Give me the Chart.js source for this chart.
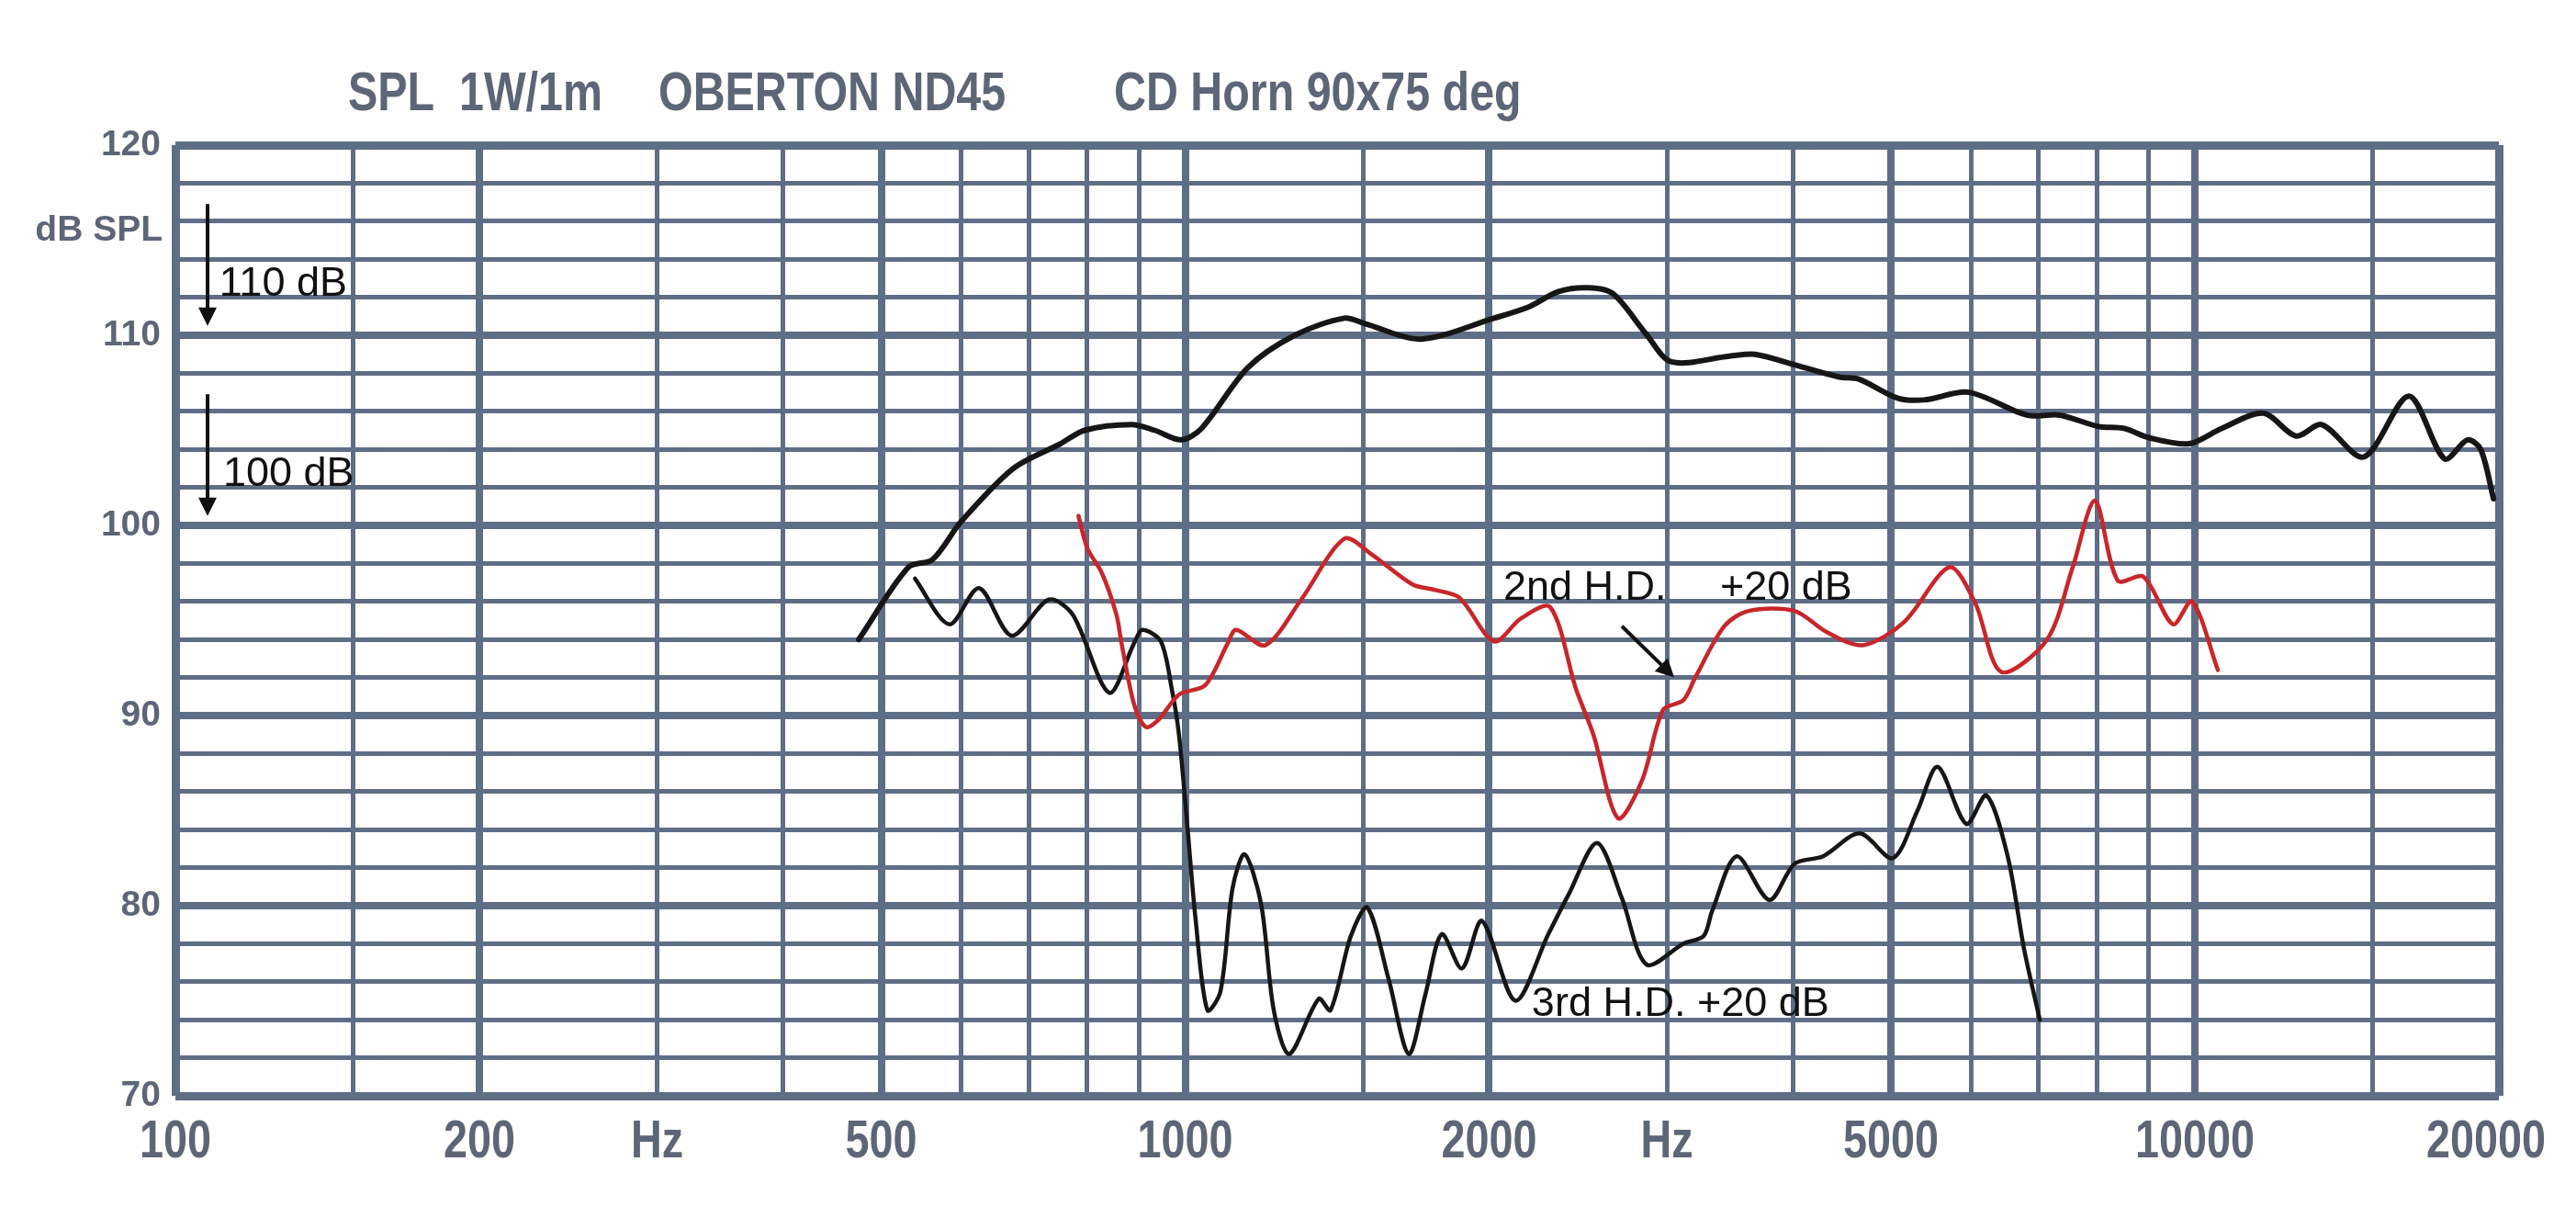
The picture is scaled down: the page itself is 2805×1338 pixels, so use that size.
<!DOCTYPE html>
<html>
<head>
<meta charset="utf-8">
<script src="https://cdn.jsdelivr.net/npm/chart.js@4.4.1/dist/chart.umd.min.js"></script>
<style>
  html, body { margin: 0; padding: 0; background: #fff; }
  canvas { display: block; }
</style>
</head>
<body>
<canvas id="spl" width="2805" height="1338"></canvas>
<script>
// x axis: grid ticks and their labels (Hz, log scale)
const xTickValues = [100, 150, 200, 300, 400, 500, 600, 700, 800, 900, 1000, 1500, 2000, 3000, 4000, 5000, 6000, 7000, 8000, 9000, 10000, 15000, 20000];
const xTickText = ['100', '', '200', 'Hz', '', '500', '', '', '', '', '1000', '', '2000', 'Hz', '', '5000', '', '', '', '', '10000', '', '20000'];
const xMajorTicks = [200, 500, 1000, 2000, 5000, 10000];
// y axis: labelled values (dB SPL)
const yLabelValues = [70, 80, 90, 100, 110, 120];

// SPL 1W/1m
const splFreq = [475, 532, 562, 600, 676, 753, 795, 885, 933, 991, 1038, 1154, 1284, 1438, 1509, 1712, 2023, 2191, 2343, 2505, 2651, 2858, 3031, 3459, 3667, 4013, 4446, 4645, 5074, 5391, 5972, 6817, 7350, 8027, 8511, 9024, 9874, 10627, 11695, 12590, 13360, 14700, 16290, 17670, 18620, 19190, 19760];
const splDb = [94.0, 97.8, 98.2, 100.2, 103.0, 104.3, 105.0, 105.3, 105.0, 104.5, 105.1, 108.3, 110.0, 110.9, 110.6, 109.8, 110.9, 111.5, 112.3, 112.5, 112.2, 110.1, 108.6, 108.9, 109.0, 108.45, 107.8, 107.7, 106.7, 106.6, 107.0, 105.8, 105.8, 105.2, 105.1, 104.6, 104.3, 105.1, 105.9, 104.7, 105.3, 103.6, 106.8, 103.5, 104.5, 104.0, 101.4];

// 2nd harmonic distortion +20 dB
const hd2Freq = [784, 800, 827, 855, 865, 890, 914, 942, 986, 1047, 1102, 1123, 1201, 1303, 1438, 1528, 1679, 1770, 1869, 2023, 2150, 2299, 2438, 2537, 2683, 2835, 2974, 3114, 3200, 3420, 3614, 4013, 4316, 4688, 5148, 5716, 6061, 6429, 7139, 7568, 7962, 8385, 8896, 9511, 9935, 10537];
const hd2Db = [100.5, 98.8, 97.5, 95.3, 93.8, 90.6, 89.4, 89.8, 91.1, 91.6, 93.8, 94.5, 93.7, 96.1, 99.3, 98.5, 96.9, 96.6, 96.2, 93.9, 95.1, 95.7, 91.4, 89.0, 84.6, 86.6, 90.3, 90.8, 92.0, 94.7, 95.5, 95.5, 94.4, 93.7, 94.9, 97.8, 95.9, 92.3, 94.0, 97.8, 101.3, 97.1, 97.3, 94.8, 96.0, 92.4];

// 3rd harmonic distortion +20 dB
const hd3Freq = [540, 584, 625, 673, 733, 774, 841, 890, 907, 946, 970, 986, 1005, 1024, 1052, 1084, 1114, 1145, 1189, 1224, 1268, 1356, 1393, 1459, 1515, 1591, 1665, 1729, 1795, 1880, 1968, 2123, 2289, 2398, 2558, 2707, 2864, 3114, 3262, 3325, 3517, 3789, 4013, 4283, 4656, 5022, 5312, 5563, 5937, 6217, 6525, 6775, 7021];
const hd3Db = [97.2, 94.8, 96.7, 94.2, 96.1, 95.3, 91.2, 93.8, 94.5, 93.9, 91.4, 89.0, 84.2, 79.3, 74.5, 75.5, 80.9, 82.7, 80.1, 74.5, 72.2, 75.1, 74.5, 78.4, 79.9, 76.1, 72.2, 75.3, 78.5, 76.7, 79.2, 75.0, 78.5, 80.6, 83.3, 80.4, 76.9, 78.0, 78.4, 79.7, 82.6, 80.3, 82.2, 82.6, 83.8, 82.5, 85.0, 87.3, 84.3, 85.8, 82.6, 77.7, 74.0];

const gridColor = '#5f6e87';
const textColor = '#5d6677';
const sansFamily = '"Liberation Sans", Arial, sans-serif';
const NARROW = 0.82; // Arial Narrow is Arial squeezed to 82 %

const toPoints = (fs, ds) => fs.map((f, i) => ({ x: f, y: ds[i] }));

// text notes and arrows, placed in data coordinates
const notes = [
    { text: '110 dB', f: 110.5, db: 112.1 },
    { text: '100 dB', f: 111.5, db: 102.1 },
    { text: '2nd H.D.', f: 2066, db: 96.1 },
    { text: '+20 dB', f: 3386, db: 96.1 },
    { text: '3rd H.D. +20 dB', f: 2204, db: 74.2 }
];
const arrows = [
    { f1: 107.6, db1: 116.9, f2: 107.6, db2: 110.5 },
    { f1: 107.6, db1: 106.9, f2: 107.6, db2: 100.5 },
    { f1: 2707, db1: 94.7, f2: 3051, db2: 92.0 }
];

// draw text squeezed horizontally like a narrow face
function narrowText(ctx, text, x, y, align, maxRight) {
    const w = ctx.measureText(text).width * NARROW;
    let left = x;
    if (align === 'center') left = x - w / 2;
    if (maxRight && left + w > maxRight) left = maxRight - w;
    ctx.save();
    ctx.translate(left, y);
    ctx.scale(NARROW, 1);
    ctx.textAlign = 'left';
    ctx.fillText(text, 0, 0);
    ctx.restore();
}

function drawArrow(ctx, x1, y1, x2, y2) {
    const ang = Math.atan2(y2 - y1, x2 - x1);
    const len = 20, half = 10;
    ctx.beginPath();
    ctx.moveTo(x1, y1);
    ctx.lineTo(x2 - Math.cos(ang) * len * 0.8, y2 - Math.sin(ang) * len * 0.8);
    ctx.stroke();
    ctx.beginPath();
    ctx.moveTo(x2, y2);
    ctx.lineTo(x2 - Math.cos(ang) * len - Math.sin(ang) * half, y2 - Math.sin(ang) * len + Math.cos(ang) * half);
    ctx.lineTo(x2 - Math.cos(ang) * len + Math.sin(ang) * half, y2 - Math.sin(ang) * len - Math.cos(ang) * half);
    ctx.closePath();
    ctx.fill();
}

const overlay = {
    id: 'overlay',
    afterDraw(chart) {
        const { ctx, scales: { x, y } } = chart;
        ctx.save();
        ctx.fillStyle = textColor;
        ctx.textBaseline = 'alphabetic';
        // title
        ctx.font = 'bold 59px ' + sansFamily;
        narrowText(ctx, 'SPL  1W/1m', 379, 120, 'left');
        narrowText(ctx, 'OBERTON ND45', 717, 120, 'left');
        narrowText(ctx, 'CD Horn 90x75 deg', 1213, 120, 'left');
        // x tick labels at the log scale positions
        ctx.font = 'bold 57px ' + sansFamily;
        xTickValues.forEach((v, i) => {
            if (xTickText[i]) narrowText(ctx, xTickText[i], x.getPixelForValue(v), 1260, 'center', 2772);
        });
        // unit label
        ctx.font = 'bold 39px ' + sansFamily;
        ctx.textAlign = 'right';
        ctx.fillText('dB SPL', 177, 262);
        // notes
        ctx.fillStyle = '#111';
        ctx.strokeStyle = '#111';
        ctx.textAlign = 'left';
        ctx.font = '45px ' + sansFamily;
        notes.forEach(n => ctx.fillText(n.text, x.getPixelForValue(n.f), y.getPixelForValue(n.db)));
        ctx.lineWidth = 4;
        arrows.forEach(a => drawArrow(ctx,
            x.getPixelForValue(a.f1), y.getPixelForValue(a.db1),
            x.getPixelForValue(a.f2), y.getPixelForValue(a.db2)));
        ctx.restore();
    }
};

const lineStyle = {
    pointRadius: 0,
    fill: false,
    tension: 0.3,
    borderCapStyle: 'round',
    borderJoinStyle: 'round'
};

new Chart(document.getElementById('spl'), {
    type: 'line',
    data: {
        datasets: [
            { ...lineStyle, label: 'SPL', data: toPoints(splFreq, splDb), borderColor: '#161616', borderWidth: 6 },
            { ...lineStyle, label: '2nd H.D. +20 dB', data: toPoints(hd2Freq, hd2Db), borderColor: '#c8262a', borderWidth: 4.5 },
            { ...lineStyle, label: '3rd H.D. +20 dB', data: toPoints(hd3Freq, hd3Db), borderColor: '#161616', borderWidth: 4.5 }
        ]
    },
    options: {
        responsive: false,
        devicePixelRatio: 1,
        animation: false,
        layout: { padding: { left: 0, top: 158, right: 84, bottom: 0 } },
        plugins: { legend: { display: false }, tooltip: { enabled: false }, title: { display: false } },
        scales: {
            x: {
                type: 'logarithmic',
                min: 100,
                max: 20000,
                afterBuildTicks: (scale) => { scale.ticks = xTickValues.map(v => ({ value: v })); },
                afterFit: (scale) => { scale.height = 145; },
                border: { display: false },
                grid: {
                    color: gridColor,
                    drawTicks: false,
                    lineWidth: (c) => {
                        const v = c.tick ? c.tick.value : 0;
                        if (v === 100 || v === 20000) return 9;
                        return xMajorTicks.includes(v) ? 8 : 5;
                    }
                },
                ticks: { display: false, autoSkip: false, maxRotation: 0 }
            },
            y: {
                type: 'linear',
                min: 70,
                max: 120,
                afterFit: (scale) => { scale.width = 191; },
                border: { display: false },
                grid: {
                    color: gridColor,
                    drawTicks: false,
                    lineWidth: (c) => {
                        const v = c.tick ? c.tick.value : 0;
                        if (v === 70 || v === 120) return 9;
                        return v % 10 === 0 ? 8 : 5;
                    }
                },
                ticks: {
                    stepSize: 2,
                    autoSkip: false,
                    padding: 16,
                    color: textColor,
                    font: { family: sansFamily, size: 39, weight: 'bold' },
                    callback: (value) => yLabelValues.includes(value) ? String(value) : ''
                }
            }
        }
    },
    plugins: [overlay]
});
</script>
</body>
</html>
